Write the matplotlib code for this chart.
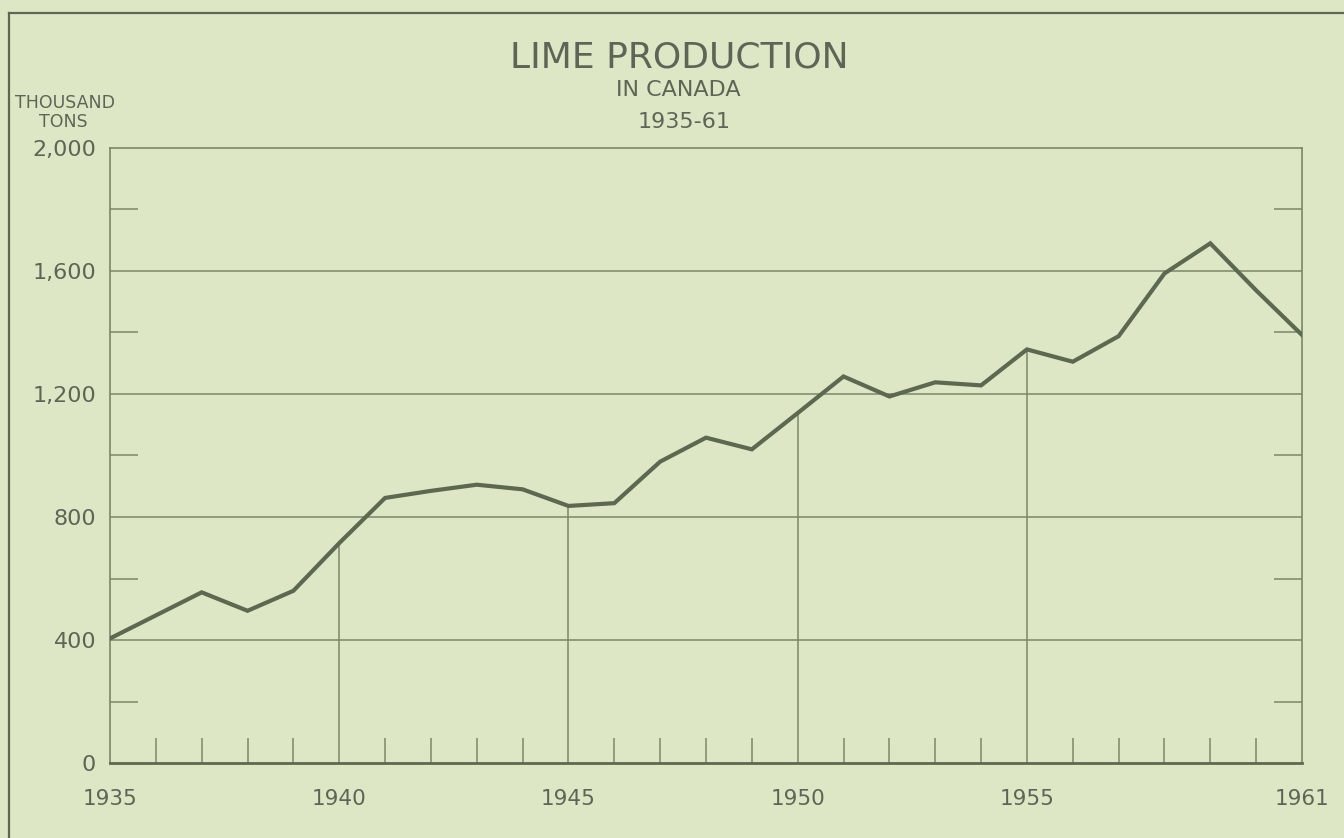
import matplotlib.pyplot as plt
from matplotlib.lines import Line2D
from matplotlib.ticker import FixedLocator, MultipleLocator

# lime production in Canada, thousand tons
years = list(range(1935, 1962))
production = [
    405, 480, 555, 495, 560, 715, 862, 885, 905, 890,
    836, 845, 980, 1058, 1020, 1138, 1257, 1192, 1238, 1228,
    1345, 1305, 1388, 1592, 1690, 1537, 1392,
]
decade_marks = [1940, 1945, 1950, 1955]
x_labels = ["1935", "1940", "1945", "1950", "1955", "1961"]
x_label_pos = [1935, 1940, 1945, 1950, 1955, 1961]
y_ticks = [0, 400, 800, 1200, 1600, 2000]
y_labels = ["0", "400", "800", "1,200", "1,600", "2,000"]

BG = "#dee7c5"
INK = "#5c6850"
TEXT = "#5e6556"
GRID = "#7a8767"

fig = plt.figure(figsize=(13.44, 8.38), dpi=100, facecolor=BG)
ax = fig.add_axes([110 / 1344, 1 - 763 / 838, 1192 / 1344, 615 / 838])
ax.set_facecolor(BG)

ax.set_xlim(1935, 1961)
ax.set_ylim(0, 2000)

for v in y_ticks[1:-1]:
    ax.axhline(v, color=GRID, linewidth=1.1, zorder=1)

# verticals run from the base up to the curve
ax.vlines(decade_marks, 0, [production[years.index(y)] for y in decade_marks],
          color=GRID, linewidth=1.1, zorder=1)

ax.plot(years, production, color=INK, linewidth=3.0, solid_joinstyle="miter", zorder=3)

for side in ["left", "right", "top"]:
    ax.spines[side].set_color(GRID)
    ax.spines[side].set_linewidth(1.2)
ax.spines["bottom"].set_color(INK)
ax.spines["bottom"].set_linewidth(2.0)

ax.yaxis.set_major_locator(FixedLocator(y_ticks))
ax.set_yticklabels(y_labels)
ax.yaxis.set_minor_locator(FixedLocator([200, 600, 1000, 1400, 1800]))
ax.tick_params(axis="y", which="major", length=0, pad=10, labelsize=16, labelcolor=TEXT)
ax.tick_params(axis="y", which="minor", direction="in", length=20, width=1.1,
               color=GRID, left=True, right=True)

ax.xaxis.set_major_locator(FixedLocator(x_label_pos))
ax.set_xticklabels(x_labels)
ax.xaxis.set_minor_locator(FixedLocator([y for y in years if y not in x_label_pos]))
ax.tick_params(axis="x", which="major", length=0, pad=19, labelsize=15.5, labelcolor=TEXT)
ax.tick_params(axis="x", which="minor", direction="in", length=18, width=1.1, color=GRID)

fig.text(679 / 1344, 1 - 57 / 838, "LIME PRODUCTION", ha="center", va="center",
         fontsize=26, color=TEXT)
fig.text(678 / 1344, 1 - 90 / 838, "IN CANADA", ha="center", va="center",
         fontsize=16, color=TEXT)
fig.text(684 / 1344, 1 - 122 / 838, "1935-61", ha="center", va="center",
         fontsize=16, color=TEXT)
fig.text(65 / 1344, 1 - 103 / 838, "THOUSAND", ha="center", va="center",
         fontsize=12.5, color=TEXT)
fig.text(63 / 1344, 1 - 122 / 838, "TONS", ha="center", va="center",
         fontsize=12.5, color=TEXT)

# outer frame of the page
fig.add_artist(Line2D([9 / 1344, 9 / 1344], [0, 1 - 13 / 838], color=INK, linewidth=1.6))
fig.add_artist(Line2D([9 / 1344, 1], [1 - 13 / 838, 1 - 13 / 838], color=INK, linewidth=1.6))

fig.savefig("out.png", dpi=100, facecolor=BG)
